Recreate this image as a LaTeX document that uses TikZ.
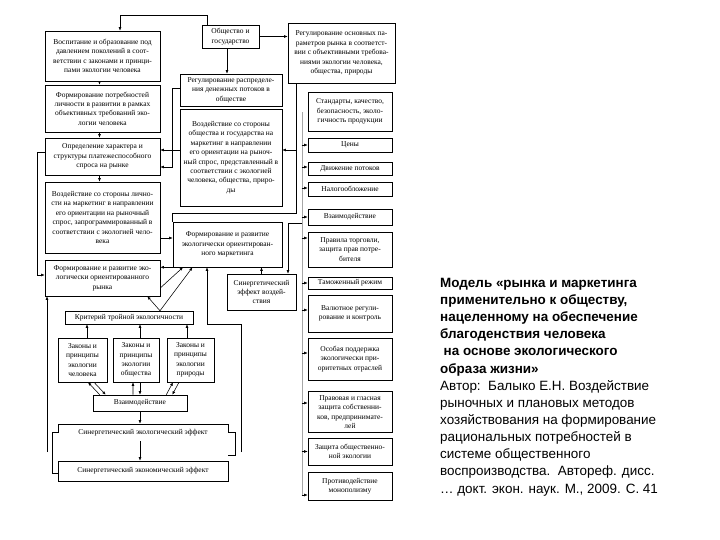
\documentclass[tikz,border=0pt]{standalone}
\usepackage{fontspec}
\setmainfont{Liberation Serif}
\setsansfont{Liberation Sans}
\usetikzlibrary{arrows.meta,positioning,calc}
\newcommand{\dgfont}{\fontsize{7.5}{9.4}\selectfont}
\newcommand{\capfont}{\sffamily\fontsize{13.5}{17.2}\selectfont}
\tikzset{
  blk/.style={draw, line width=0.55bp, align=center, inner sep=1pt, font=\dgfont},
  arr/.style={line width=0.55bp, -{Latex[length=3.5bp,width=2.8bp]}},
  con/.style={line width=0.55bp},
  bus/.style={line width=0.7bp, black!35}
}

\begin{document}
\begin{tikzpicture}[x=1bp,y=-1bp]
\useasboundingbox (0,0) rectangle (720,540);

    % Draw left column.
    \node (l1) at (102.5,56) [blk,minimum width=115bp,minimum height=50bp]{Воспитание и образование под\\давлением поколений в соот-\\ветствии с законами и принци-\\пами экологии человека};
    \node (l2) at (102.5,108.5) [blk,minimum width=115bp,minimum height=47bp]{Формирование потребностей\\личности в развитии в рамках\\объективных требований эко-\\логии человека};
    \node (l3) at (102.5,156.5) [blk,minimum width=115bp,minimum height=37bp]{Определение характера и\\структуры платежеспособного\\спроса на рынке};
    \node (l4) at (102.5,217.5) [blk,minimum width=115bp,minimum height=71bp]{Воздействие со стороны лично-\\сти на маркетинг в направлении\\его ориентации на рыночный\\спрос, запрограммированный в\\соответствии с экологией чело-\\века};
    \node (l5) at (102.5,278) [blk,minimum width=115bp,minimum height=36bp]{Формирование и развитие эко-\\логически ориентированного\\рынка};

    % Draw middle column.
    \node (m1) at (230.5,36.5) [blk,minimum width=57bp,minimum height=23bp]{Общество и\\государство};
    \node (m2) at (231,90) [blk,minimum width=102bp,minimum height=32bp]{Регулирование распределе-\\ния денежных потоков в\\обществе};
    \node (m3) at (231,157.5) [blk,minimum width=102bp,minimum height=97bp]{Воздействие со стороны\\общества и государства на\\маркетинг в направлении\\его ориентации на рыноч-\\ный спрос, представленный в\\соответствии с экологией\\человека, общества, приро-\\ды};
    \node (m4) at (227.5,244.5) [blk,minimum width=109bp,minimum height=45bp]{Формирование и развитие\\экологически ориентирован-\\ного маркетинга};
    \node (m5) at (261.5,292) [blk,minimum width=69bp,minimum height=36bp]{Синергетический\\эффект воздей-\\ствия};

    % Draw right column.
    \node (r0) at (341.5,53) [blk,minimum width=107bp,minimum height=60bp]{Регулирование основных па-\\раметров рынка в соответст-\\вии с объективными требова-\\ниями экологии человека,\\общества, природы};
    \foreach \n/\y/\h/\t in {r1/111.5/39/{Стандарты, качество,\\безопасность, эколо-\\гичность продукции},
        r2/145/14/{Цены}, r3/168.5/13/{Движение потоков}, r4/189/14/{Налогообложение},
        r5/217/16/{Взаимодействие}, r6/249.5/35/{Правила торговли,\\защита прав потре-\\бителя},
        r7/283/12/{Таможенный режим}, r8/313.5/37/{Валютное регули-\\рование и контроль},
        r9/359/42/{Особая поддержка\\экологически при-\\оритетных отраслей},
        r10/412/41/{Правовая и гласная\\защита собственни-\\ков, предпринимате-\\лей},
        r11/451.5/27/{Защита общественно-\\ной экологии}, r12/486/28/{Противодействие\\монополизму}}
        \node (\n) at (350,\y) [blk,minimum width=84bp,minimum height=\h bp]{\t};

    % Draw bottom block.
    \node (c) at (129,317.5) [blk,minimum width=128bp,minimum height=13bp]{Критерий тройной экологичности};
    \node (z1) at (82.5,360) [blk,minimum width=49bp,minimum height=44bp]{Законы и\\принципы\\экологии\\человека};
    \node (z2) at (136,360) [blk,minimum width=46bp,minimum height=44bp]{Законы и\\принципы\\экологии\\общества};
    \node (z3) at (190.5,360) [blk,minimum width=47bp,minimum height=44bp]{Законы и\\принципы\\экологии\\природы};
    \node (v) at (140,403) [blk,minimum width=94bp,minimum height=16bp]{Взаимодействие};
    \node (s1) at (143,432.5) [blk,draw=none,minimum width=170bp,minimum height=17bp]{Синергетический экологический эффект};
    \node (s2) at (143,471) [blk,minimum width=170bp,minimum height=20bp]{Синергетический экономический эффект};
    \draw[con] (58,473) -- (52,473) -- (52,432) -- (58,432) |- (228,424) -- (228,432) -- (235,432) -- (235,455) -- (228,455);

    % Draw connectors of the left column.
    \foreach \a/\b in {l1/l2,l2/l3,l3/l4}
        \draw[arr] ([xshift=-3bp]\a.south) -- ([xshift=-3bp]\b.north);
    \draw[arr] ([yshift=4.5bp]l3.west) -- ++(-7,0) |- ([yshift=3bp]l5.west);
    \coordinate (lend) at (47,452);
    \draw[arr] (lend) -- (lend |- l5.south);

    % Draw connectors of society and state.
    \draw[arr] ([xshift=-23.5bp]m1.north) -- ++(0,-9) -| ([xshift=17.5bp]l1.north);
    \draw[arr] (m1.east) -- (m1.east -| r0.west);
    \draw[arr] ([xshift=-3.5bp]m1.south) -- ([xshift=-3.5bp]m1.south |- m2.north);
    \draw[arr] ([yshift=2bp]m2.west) -- ++(-7,0) |- ([yshift=-10.5bp]l3.east);
    \draw[arr] ([yshift=7.5bp]m3.west) -- ([yshift=7.5bp]m3.west -| l3.east);
    \draw[arr] ([xshift=-45.5bp]r0.south) |- ([yshift=7.5bp]m3.east);
    \draw[con] ([xshift=-45.5bp]r0.south) -- ++(0,130) -| (m4.north west);

    % Draw connectors round the marketing block.
    \draw[arr] ([yshift=-20.5bp]l4.east) -- ([yshift=-20.5bp]l4.east -| m4.west);
    \draw[arr] (m4.south west) -- (m4.south west -| l5.east);
    \draw[arr] ([yshift=-10bp]l5.east) -- ([xshift=-44.5bp]m4.south);
    \draw[arr] ([xshift=31bp]c.north) -- ([xshift=-13bp]l5.south east);
    \draw[arr] ([xshift=31bp]c.north) -- ([xshift=-35bp]m4.south);
    \draw[arr] (m5.north) -- (m5.north |- m4.south);
    \coordinate (rend) at (241,452);
    \draw[arr] (rend) -- ++(0,-128) -| ([xshift=-20.5bp]m4.south);

    % Draw the regulation bus.
    \coordinate (bt) at (302,112);
    \coordinate (bb) at (302,495);
    \coordinate (bm) at (302,223);
    \draw[bus] (bt) -- (bb);
    \draw[arr] (bm) -| ([xshift=26.5bp]m5.north);
    \foreach \n/\d in {r2/0,r3/1.5,r4/1,r5/0,r6/11.5,r7/0,r8/3.5,r9/6,r10/9,r11/0,r12/-9}
        \draw[arr] ([xshift=-6bp,yshift=\d bp]\n.west) -- ([yshift=\d bp]\n.west);

    % Draw connectors of the laws and effects.
    \foreach \z/\d in {z1/4.5,z2/4,z3/-3.5}
        \draw[arr] ([xshift=\d bp]\z.north) -- ([xshift=\d bp]\z.north |- c.south);
    \draw[arr] ([xshift=7bp]v.north west) -- ([xshift=5.5bp]z1.south);
    \draw[arr] ([xshift=11.5bp]z1.south) -- ([xshift=13bp]v.north west);
    \draw[arr] ([xshift=-7bp]v.north) -- ([xshift=-3bp]z2.south);
    \draw[arr] ([xshift=4bp]z2.south) -- ([xshift=4bp]z2.south |- v.north);
    \draw[arr] ([xshift=-21bp]v.north east) -- ([xshift=-17.5bp]z3.south);
    \draw[arr] ([xshift=-11.5bp]z3.south) -- ([xshift=-15bp]v.north east);
    \draw[arr] (v.south) -- (v.south |- s1.north);
    \draw[arr] ([xshift=-3bp]s1.south) -- ([xshift=-3bp]s2.north);

    % Caption.
    \node (cap) at (440,278) [anchor=north west,inner sep=0pt,align=left,font=\capfont]{\textbf{Модель «рынка и маркетинга}\\\textbf{применительно к обществу,}\\\textbf{нацеленному на обеспечение}\\\textbf{благоденствия человека}\\\textbf{\hspace*{3.5bp}на основе экологического}\\\textbf{образа жизни»}\\Автор:\ \ Балыко Е.Н. Воздействие\\рыночных и плановых методов\\хозяйствования на формирование\\рациональных потребностей в\\системе общественного\\воспроизводства.\ \ Автореф. дисс.\\… докт. экон. наук. М., 2009. С. 41};

\end{tikzpicture}
\end{document}
